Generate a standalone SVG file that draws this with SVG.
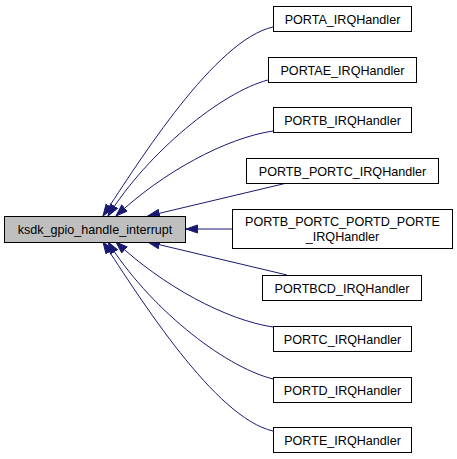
<svg xmlns="http://www.w3.org/2000/svg" width="457" height="459" viewBox="0 0 457 459">
<style>
.node rect{fill:#ffffff;stroke:#000000;stroke-width:1}
#main rect{fill:#bfbfbf}
text{font-family:"Liberation Sans",Arial,sans-serif;font-size:12.6px;fill:#000000;text-anchor:middle}
.edge{fill:none;stroke:#191970;stroke-width:1;marker-end:url(#arr)}
</style>
<defs>
<marker id="arr" markerUnits="userSpaceOnUse" markerWidth="13" markerHeight="10" refX="12" refY="4.5" orient="auto">
<path d="M0.5,0.5 L12,4.5 L0.5,8.5 z" fill="#191970" stroke="#191970" stroke-width="1"/>
</marker>
</defs>
<rect width="457" height="459" fill="#ffffff"/>
<g id="edges">
<path class="edge" d="M273,27 C215,40 140,160 103,216"/>
<path class="edge" d="M268,80 C222,92 148,152 108,216"/>
<path class="edge" d="M273,131 C226,138 163,172 116,216"/>
<path class="edge" d="M287,183 L148,216"/>
<path class="edge" d="M233,229 L186,229"/>
<path class="edge" d="M287,275 L148,242"/>
<path class="edge" d="M273,327 C226,320 163,286 116,242"/>
<path class="edge" d="M273,379 C222,366 148,306 108,242"/>
<path class="edge" d="M273,431 C215,418 140,298 103,242"/>
</g>
<g id="main" class="node"><rect x="4.5" y="216.5" width="181" height="26"/><text x="95" y="233.5">ksdk_gpio_handle_interrupt</text></g>
<g id="n_porta" class="node"><rect x="273.5" y="6.5" width="138" height="25"/><text x="342.5" y="23.5">PORTA_IRQHandler</text></g>
<g id="n_portae" class="node"><rect x="268.5" y="57.5" width="148" height="25"/><text x="342.5" y="74.5">PORTAE_IRQHandler</text></g>
<g id="n_portb" class="node"><rect x="273.5" y="107.5" width="138" height="25"/><text x="342.5" y="124.5">PORTB_IRQHandler</text></g>
<g id="n_portbc" class="node"><rect x="246.5" y="158.5" width="192" height="25"/><text x="342.5" y="175.5">PORTB_PORTC_IRQHandler</text></g>
<g id="n_portbcde" class="node"><rect x="232.5" y="209.5" width="220" height="39"/><text x="342.5" y="225.5">PORTB_PORTC_PORTD_PORTE</text><text x="342.5" y="240.5">_IRQHandler</text></g>
<g id="n_portbcd" class="node"><rect x="262.5" y="275.5" width="159" height="25"/><text x="342" y="292.5">PORTBCD_IRQHandler</text></g>
<g id="n_portc" class="node"><rect x="273.5" y="326.5" width="138" height="25"/><text x="342.5" y="343.5">PORTC_IRQHandler</text></g>
<g id="n_portd" class="node"><rect x="273.5" y="377.5" width="138" height="25"/><text x="342.5" y="394.5">PORTD_IRQHandler</text></g>
<g id="n_porte" class="node"><rect x="273.5" y="427.5" width="138" height="25"/><text x="342.5" y="444.5">PORTE_IRQHandler</text></g>
</svg>
